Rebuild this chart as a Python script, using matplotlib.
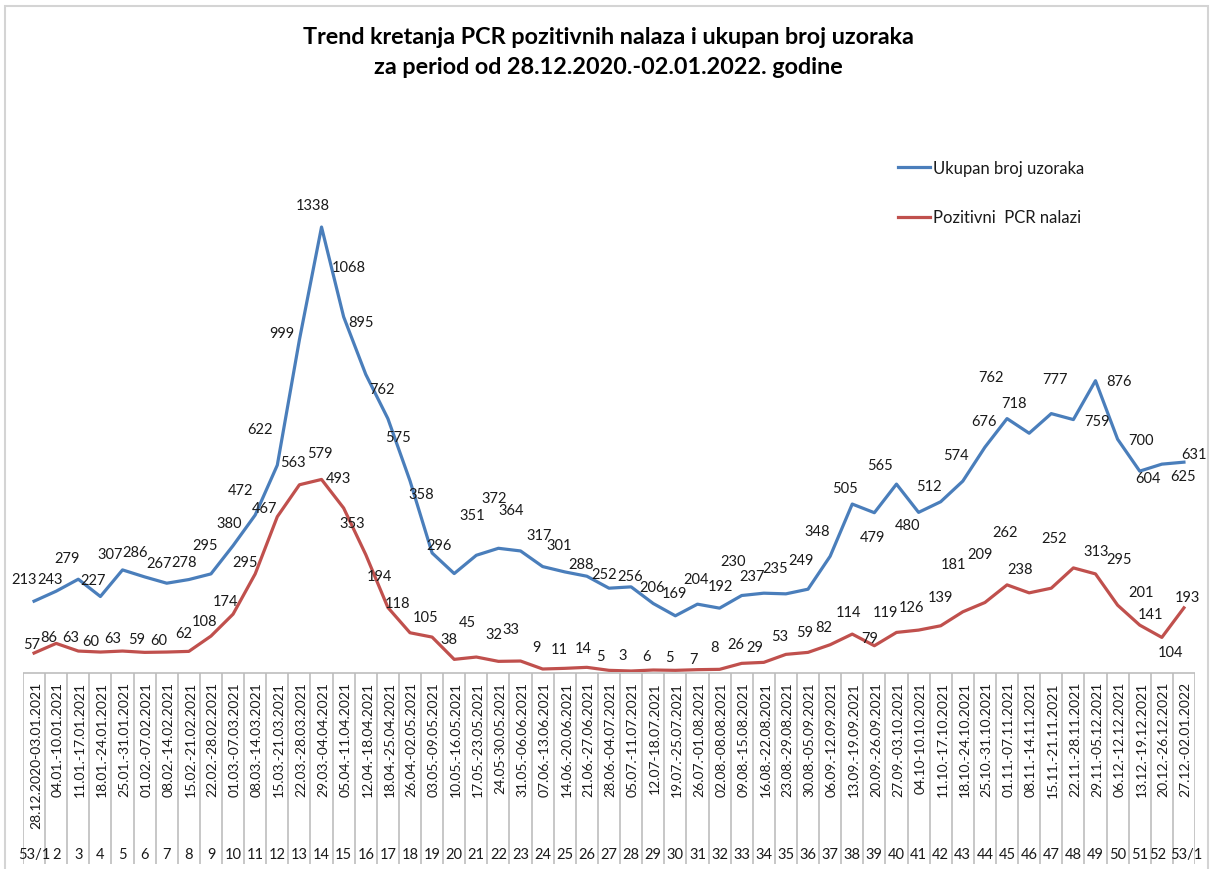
import matplotlib
matplotlib.use("Agg")
import matplotlib.pyplot as plt
from matplotlib.patches import Rectangle

# Nedeljni podaci: ukupan broj uzoraka i pozitivni PCR nalazi
weeks = ["53/1"] + [str(w) for w in range(2, 53)] + ["53/1"]

periods = [
    "28.12.2020-03.01.2021", "04.01.-10.01.2021", "11.01.-17.01.2021",
    "18.01.-24.01.2021", "25.01.-31.01.2021", "01.02.-07.02.2021",
    "08.02.-14.02.2021", "15.02.-21.02.2021", "22.02.-28.02.2021",
    "01.03.-07.03.2021", "08.03.-14.03.2021", "15.03.-21.03.2021",
    "22.03.-28.03.2021", "29.03.-04.04.2021", "05.04.-11.04.2021",
    "12.04.-18.04.2021", "18.04.-25.04.2021", "26.04.-02.05.2021",
    "03.05.-09.05.2021", "10.05.-16.05.2021", "17.05.-23.05.2021",
    "24.05-30.05.2021", "31.05.-06.06.2021", "07.06.-13.06.2021",
    "14.06.-20.06.2021", "21.06.-27.06.2021", "28.06.-04.07.2021",
    "05.07.-11.07.2021", "12.07-18.07.2021", "19.07.-25.07.2021",
    "26.07.-01.08.2021", "02.08.-08.08.2021", "09.08.-15.08.2021",
    "16.08.-22.08.2021", "23.08.-29.08.2021", "30.08.-05.09.2021",
    "06.09.-12.09.2021", "13.09.-19.09.2021", "20.09.-26.09.2021",
    "27.09.-03.10.2021", "04.10-10.10.2021", "11.10.-17.10.2021",
    "18.10.-24.10.2021", "25.10.-31.10.2021", "01.11.-07.11.2021",
    "08.11.-14.11.2021", "15.11.-21.11.2021", "22.11.-28.11.2021",
    "29.11.-05.12.2021", "06.12.-12.12.2021", "13.12.-19.12.2021",
    "20.12.-26.12.2021", "27.12.-02.01.2022",
]

ukupno = [213, 243, 279, 227, 307, 286, 267, 278, 295, 380, 472, 622, 999,
          1338, 1068, 895, 762, 575, 358, 296, 351, 372, 364, 317, 301, 288,
          252, 256, 206, 169, 204, 192, 230, 237, 235, 249, 348, 505, 479,
          565, 480, 512, 574, 676, 762, 718, 777, 759, 876, 700, 604, 625,
          631]

pozitivni = [57, 86, 63, 60, 63, 59, 60, 62, 108, 174, 295, 467, 563, 579,
             493, 353, 194, 118, 105, 38, 45, 32, 33, 9, 11, 14, 5, 3, 6, 5,
             7, 8, 26, 29, 53, 59, 82, 114, 79, 119, 126, 139, 181, 209, 262,
             238, 252, 313, 295, 201, 141, 104, 193]

# pomeraji natpisa vrijednosti (u pikselima) u odnosu na tacku
blue_off = [(-10, 22), (-6, 12), (-11, 21), (-7, 17), (-12, 16), (-10, 25),
            (-8, 20), (-5, 18), (-6, 29), (-4, 23), (-15, 25), (-17, 36),
            (-18, 7), (-9, 22), (5, 50), (-5, 52), (-6, 30), (-12, 44),
            (-11, 59), (-15, 29), (-4, 40), (-4, 50), (-9, 41), (-3, 32),
            (-6, 27), (-6, 12), (-5, 14), (-1, 11), (-1, 16), (-1, 23),
            (-1, 25), (1, 22), (-9, 35), (-12, 17), (-11, 26), (-7, 29),
            (-13, 25), (-7, 16), (-2, -24), (-16, 19), (-11, -13), (-12, 16),
            (-7, 26), (-1, 26), (-16, 42), (-15, 30), (4, 35), (24, -1),
            (24, 0), (23, -1), (8, -7), (21, -12), (10, 8)]

red_off = [(-2, 9), (-7, 6), (-8, 14), (-10, 11), (-10, 13), (-8, 13),
           (-8, 12), (-5, 18), (-6, 15), (-8, 13), (-10, 12), (-13, 9),
           (-6, 23), (-2, 26), (-5, 30), (-14, 32), (-8, 31), (-12, 30),
           (-7, 20), (-5, 20), (-9, 35), (-5, 27), (-10, 32), (-6, 22),
           (-6, 19), (-4, 19), (-9, 14), (-8, 16), (-7, 14), (-6, 13),
           (-4, 11), (-5, 22), (-6, 19), (-9, 15), (-6, 18), (-3, 20),
           (-6, 18), (-4, 22), (-5, 8), (-11, 20), (-7, 23), (0, 29),
           (-9, 48), (-5, 48), (-2, 53), (-9, 24), (3, 50), (23, 17),
           (24, 15), (23, 13), (11, 11), (9, -15), (3, 11)]

plt.rcParams['font.family'] = ['Lato', 'DejaVu Sans']
W, H = 1211, 870
BLUE = '#4a7ebb'
RED = '#c0504d'
TXT = '#1a1a1a'
GRID = '#bdbdbd'

fig = plt.figure(figsize=(W / 100, H / 100), dpi=100)
fig.patch.set_facecolor('white')

x = list(range(len(weeks)))

# glavni grafikon
ax = fig.add_axes([23 / W, (H - 673) / H, 1172 / W, 573 / H])
ax.set_xlim(-0.5, len(weeks) - 0.5)
ax.set_ylim(0, 1723)
ax.axis('off')

l1, = ax.plot(x, ukupno, color=BLUE, lw=2.3, solid_joinstyle='round',
              label='Ukupan broj uzoraka')
l2, = ax.plot(x, pozitivni, color=RED, lw=2.3, solid_joinstyle='round',
              label='Pozitivni  PCR nalazi')

for i, v in enumerate(ukupno):
    ax.annotate(str(v), (i, v), xytext=blue_off[i], textcoords='offset pixels',
                ha='center', va='center', fontsize=10.5, color=TXT)
for i, v in enumerate(pozitivni):
    ax.annotate(str(v), (i, v), xytext=red_off[i], textcoords='offset pixels',
                ha='center', va='center', fontsize=10.5, color=TXT)

ax.legend(handles=[l1, l2], loc='upper left', frameon=False,
          bbox_to_anchor=(898 / W, 1 - 161 / H), bbox_transform=fig.transFigure,
          fontsize=12, handlelength=1.9, handletextpad=0.2, labelspacing=2.0,
          borderpad=0, borderaxespad=0, labelcolor=TXT)

# tabela sa periodima i brojem sedmice
tab = fig.add_axes([23 / W, 0, 1172 / W, (H - 673) / H])
tab.set_xlim(-0.5, len(weeks) - 0.5)
tab.set_ylim(H, 673)
tab.axis('off')
tab.hlines(674, -0.5, len(weeks) - 0.5, color=GRID, lw=1.2)
tab.vlines([i - 0.5 for i in range(len(weeks) + 1)], 674, 865, color=GRID, lw=1.2)
for i, p in enumerate(periods):
    tab.text(i + 0.08, 682, p, rotation=90, ha='center', va='top',
             fontsize=10, color=TXT)
last = len(weeks) - 1
for i, w in enumerate(weeks):
    # zadnje dvije oznake su tijesne, pa se malo razmaknu
    xi = i - 0.2 if i == last - 1 else (i + 0.12 if i == last else i)
    tab.text(xi, 855, w, ha='center', va='center', fontsize=10.5, color=TXT)

fig.text(608 / W, 1 - 38 / H, 'Trend kretanja PCR pozitivnih nalaza i ukupan broj uzoraka',
         ha='center', va='center', fontsize=16.8, fontweight='bold', color='black')
fig.text(608 / W, 1 - 68 / H, 'za period od 28.12.2020.-02.01.2022. godine',
         ha='center', va='center', fontsize=16.8, fontweight='bold', color='black')

# okvir oko grafikona
fig.patches.append(Rectangle((5 / W, -0.02), 1203 / W, (H - 7) / H + 0.02,
                             transform=fig.transFigure, fill=False,
                             ec='#d4d4d4', lw=1.5))

fig.savefig('out.png', dpi=100)
